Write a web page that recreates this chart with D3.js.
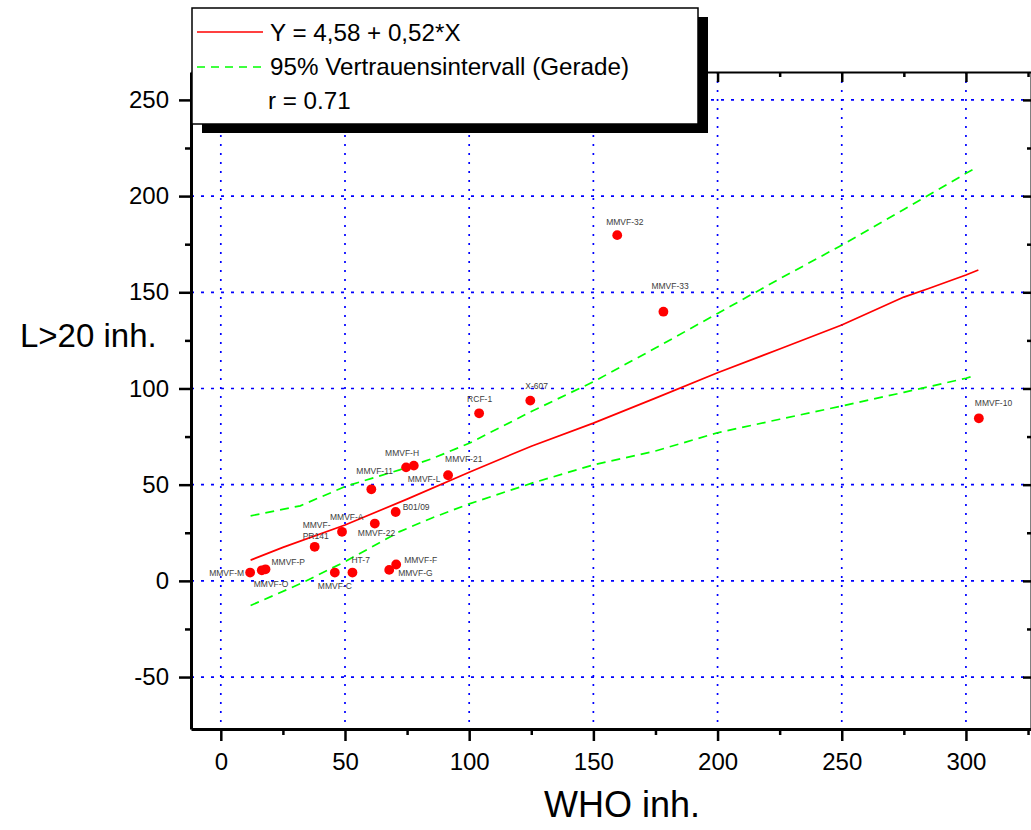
<!DOCTYPE html>
<html lang="de">
<head>
<meta charset="UTF-8">
<script src="https://cdn.jsdelivr.net/npm/d3@7"></script>
<title>WHO inh. vs L>20 inh.</title>
<style>
  body { margin: 0; background: #fff; }
  svg { display: block; }
  text { font-family: Arial, 'Liberation Sans', sans-serif; }
  .tick text { font-size: 24px; fill: #000; }
</style>
</head>
<body>
<svg id="chart" width="1031" height="830"></svg>
<script>
// measured points (WHO inh. / L>20 inh.)
const names = ["MMVF-M", "MMVF-O", "MMVF-P", "MMVF-PR141", "MMVF-A", "MMVF-C", "HT-7", "MMVF-22",
  "B01/09", "MMVF-G", "MMVF-F", "MMVF-11", "MMVF-H", "MMVF-L", "MMVF-21", "RCF-1", "X-607",
  "MMVF-32", "MMVF-33", "MMVF-10"];
const whoVals = [11.8, 16.5, 18, 37.8, 48.8, 45.9, 53, 62, 70.4, 67.8, 70.6, 60.6, 74.6, 77.7, 91.5, 104, 124.6, 159.6, 178.2, 305.2];
const lVals = [4.3, 5.5, 6, 17.7, 25.5, 4.3, 4.3, 29.8, 35.8, 5.7, 8.5, 47.6, 59, 59.9, 54.9, 87.1, 93.7, 179.7, 139.9, 84.5];

// fit line and 95% band
const fitX = [12, 25, 50, 75, 100, 125, 150, 175, 200, 225, 250, 275, 285, 300, 305];
const fitY = [10.8, 17.4, 29, 42.5, 56.5, 70, 82, 95, 108.2, 120.5, 133, 147.5, 152, 159, 161.6];
const bandX = [12, 32, 50, 72, 85, 100, 125, 150, 175, 200, 225, 250, 275, 300, 303];
const upperY = [33.8, 39, 49, 57.7, 63.5, 71.5, 88, 103.5, 121, 139, 157, 174.5, 193, 211.8, 214];
const lowerY = [-12.8, -1.5, 10, 25.6, 32.7, 40, 50.7, 60.3, 67.5, 77, 84, 90.9, 98, 105.3, 106.5];

const xTicks = [0, 50, 100, 150, 200, 250, 300];
const xMinor = [25, 75, 125, 175, 225, 275, 325];
const yTicks = [-50, 0, 50, 100, 150, 200, 250];
const yMinor = [-25, 25, 75, 125, 175, 225];

const legendItems = ["Y = 4,58 + 0,52*X", "95% Vertrauensintervall (Gerade)", "r = 0.71"];

// label placement next to each dot (px)
const labelPos = {
  "MMVF-M": [-6, 3, "end"], "MMVF-O": [-8, 17], "MMVF-P": [6, -4], "MMVF-A": [-12, -12],
  "MMVF-C": [-17, 16], "HT-7": [-1, -10], "MMVF-22": [-17, 12], "B01/09": [7, -2],
  "MMVF-G": [9, 6], "MMVF-F": [8, -2], "MMVF-11": [-15, -15], "MMVF-H": [-21, -11],
  "MMVF-L": [-6, 16], "MMVF-21": [-3, -13], "RCF-1": [-12, -11], "X-607": [-5, -12],
  "MMVF-32": [-11, -10], "MMVF-33": [-12, -23], "MMVF-10": [-4, -12]
};

const svg = d3.select("#chart");
const pLeft = 191, pRight = 1033, pTop = 72, pBottom = 729;

const x = d3.scaleLinear().domain([-12, 327]).range([pLeft, pRight]);
const y = d3.scaleLinear().domain([-77, 264.5]).range([pBottom, pTop]);

// grid
const grid = svg.append("g");
grid.selectAll("line.v").data(xTicks).enter().append("line")
  .attr("x1", d => x(d)).attr("x2", d => x(d))
  .attr("y1", pTop).attr("y2", pBottom)
  .attr("stroke", "#0000ff").attr("stroke-width", 1.7).attr("stroke-dasharray", "2,7");
grid.selectAll("line.h").data(yTicks).enter().append("line")
  .attr("x1", pLeft).attr("x2", pRight)
  .attr("y1", d => y(d)).attr("y2", d => y(d))
  .attr("stroke", "#0000ff").attr("stroke-width", 1.7).attr("stroke-dasharray", "3,7");

// axes
function styleAxis(g, w) {
  g.select(".domain").attr("stroke", "#000").attr("stroke-width", w);
  g.selectAll(".tick line").attr("stroke", "#000").attr("stroke-width", 2.5);
}
function minor(g) {
  g.select(".domain").remove();
  g.selectAll("line").attr("stroke", "#000").attr("stroke-width", 2.5);
}
const fmt = d => String(d);
const gl = svg.append("g").attr("transform", `translate(${pLeft},0)`)
  .call(d3.axisLeft(y).tickValues(yTicks).tickSize(12).tickSizeOuter(0).tickPadding(10).tickFormat(fmt));
styleAxis(gl, 3);
svg.append("g").attr("transform", `translate(${pLeft},0)`)
  .call(d3.axisLeft(y).tickValues(yMinor).tickSize(6).tickSizeOuter(0).tickFormat(""))
  .call(minor);

const gb = svg.append("g").attr("transform", `translate(0,${pBottom})`)
  .call(d3.axisBottom(x).tickValues(xTicks).tickSize(12).tickSizeOuter(0).tickPadding(12).tickFormat(fmt));
styleAxis(gb, 3);
svg.append("g").attr("transform", `translate(0,${pBottom})`)
  .call(d3.axisBottom(x).tickValues(xMinor).tickSize(6).tickSizeOuter(0).tickFormat(""))
  .call(minor);

const gt = svg.append("g").attr("transform", `translate(0,${pTop})`)
  .call(d3.axisBottom(x).tickValues(xTicks).tickSize(10).tickSizeOuter(0).tickFormat(""));
styleAxis(gt, 2);
svg.append("g").attr("transform", `translate(0,${pTop})`)
  .call(d3.axisBottom(x).tickValues(xMinor).tickSize(5).tickSizeOuter(0).tickFormat(""))
  .call(minor);

const gr = svg.append("g").attr("transform", `translate(${pRight - 2},0)`)
  .call(d3.axisLeft(y).tickValues(yTicks).tickSize(8).tickSizeOuter(0).tickFormat(""));
styleAxis(gr, 2);
svg.append("g").attr("transform", `translate(${pRight - 2},0)`)
  .call(d3.axisLeft(y).tickValues(yMinor).tickSize(4).tickSizeOuter(0).tickFormat(""))
  .call(minor);

// lines
const fitLine = d3.line().x(d => x(d[0])).y(d => y(d[1]));
svg.append("path").datum(d3.zip(bandX, upperY)).attr("d", fitLine)
  .attr("fill", "none").attr("stroke", "#00ff00").attr("stroke-width", 1.7).attr("stroke-dasharray", "9,6");
svg.append("path").datum(d3.zip(bandX, lowerY)).attr("d", fitLine)
  .attr("fill", "none").attr("stroke", "#00ff00").attr("stroke-width", 1.7).attr("stroke-dasharray", "9,6");
svg.append("path").datum(d3.zip(fitX, fitY)).attr("d", fitLine)
  .attr("fill", "none").attr("stroke", "#ff0000").attr("stroke-width", 1.7);

// points
const pts = names.map((n, i) => ({ name: n, x: whoVals[i], y: lVals[i] }));
svg.selectAll("circle.pt").data(pts).enter().append("circle").attr("class", "pt")
  .attr("cx", d => x(d.x)).attr("cy", d => y(d.y)).attr("r", 4.9).attr("fill", "#ff0000");

const lab = svg.append("g").attr("font-size", "8.5px").attr("fill", "#3c3c3c");
pts.forEach(d => {
  if (d.name === "MMVF-PR141") {
    const t = lab.append("text").attr("x", x(d.x) - 12).attr("y", y(d.y) - 19);
    t.append("tspan").text("MMVF-");
    t.append("tspan").attr("x", x(d.x) - 12).attr("dy", 11.5).text("PR141");
    return;
  }
  const p = labelPos[d.name];
  lab.append("text").attr("x", x(d.x) + p[0]).attr("y", y(d.y) + p[1])
    .attr("text-anchor", p[2] || "start").text(d.name);
});

// legend
const lg = svg.append("g");
lg.append("rect").attr("x", 202).attr("y", 17).attr("width", 506).attr("height", 116).attr("fill", "#000");
lg.append("rect").attr("x", 192).attr("y", 8).attr("width", 506).attr("height", 116)
  .attr("fill", "#fff").attr("stroke", "#000").attr("stroke-width", 1.5);
lg.append("line").attr("x1", 197).attr("x2", 263).attr("y1", 32).attr("y2", 32)
  .attr("stroke", "#ff0000").attr("stroke-width", 1.6);
lg.append("line").attr("x1", 197).attr("x2", 263).attr("y1", 67).attr("y2", 67)
  .attr("stroke", "#00ff00").attr("stroke-width", 1.6).attr("stroke-dasharray", "8,6");
lg.selectAll("text").data(legendItems).enter().append("text")
  .attr("x", (d, i) => i === 2 ? 268 : 270).attr("y", (d, i) => 41 + i * 34)
  .attr("font-size", "24.2px").text(d => d);

// axis titles
svg.append("text").attr("x", 20).attr("y", 347).attr("font-size", "33px").text("L>20 inh.");
svg.append("text").attr("x", 622).attr("y", 817).attr("text-anchor", "middle")
  .attr("font-size", "36px").text("WHO inh.");
</script>
</body>
</html>
